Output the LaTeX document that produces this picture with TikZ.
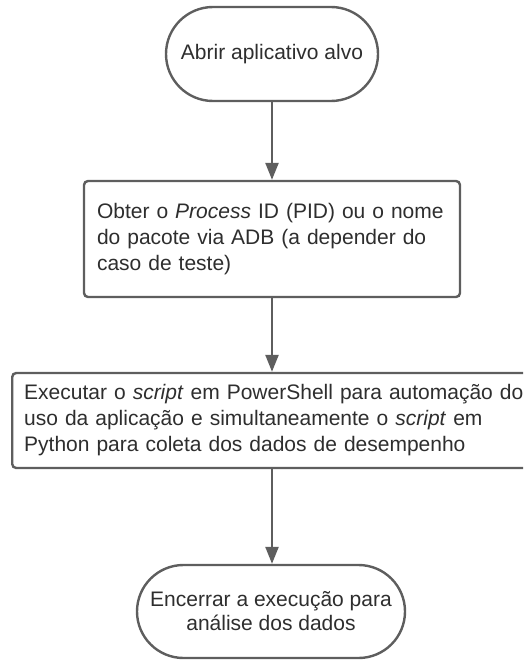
\documentclass[tikz,border=0pt]{standalone}
\usepackage{fontspec}
\setmainfont{Liberation Sans}
\usetikzlibrary{arrows.meta}
\definecolor{linegray}{HTML}{5E5E5E}
\definecolor{textgray}{HTML}{2E2E2E}
\tikzset{
  base/.style={draw=linegray, line width=2.4pt, fill=white, text=textgray,
    font=\fontsize{21}{26}\selectfont},
  terminal/.style={base, rectangle, rounded corners=#1, inner sep=0pt, align=center},
  process/.style={base, rectangle, rounded corners=4pt, align=left, inner ysep=0pt},
  flow/.style={draw=linegray, line width=2.4pt, -{Triangle[length=17pt,width=13pt]}}
}
\begin{document}
\begin{tikzpicture}[x=1pt,y=-1pt]
  \useasboundingbox (0,0) rectangle (523,661);
  \clip (0,0) rectangle (523,661);

  % start terminal
  \node[terminal=47pt, minimum width=212pt, minimum height=94pt] (start) at (272,54)
    {Abrir aplicativo alvo};

  % identify the target process
  \node[process, minimum width=376pt, minimum height=116pt, text width=350pt, inner xsep=13pt]
    (pid) at (272,239)
    {Obter o \textit{Process} ID (PID) ou o nome\\do pacote via ADB (a depender do\\caso de teste)};

  % run the automation and collection scripts (runs past the right edge)
  \node[process, minimum height=95pt, text width=530pt, inner xsep=12pt, anchor=west]
    (run) at (11,420.5)
    {Executar o \textit{script} em PowerShell para automação do\\uso da aplicação e simultaneamente o \textit{script} em\\Python para coleta dos dados de desempenho};

  % end terminal
  \node[terminal=46.5pt, minimum width=268pt, minimum height=93pt, font=\fontsize{21}{24}\selectfont]
    (stop) at (271,611.5)
    {Encerrar a execução para\\análise dos dados};

  \draw[flow] (start.south) -- (pid.north);
  \draw[flow] (pid.south) -- (pid.south |- run.north);
  \draw[flow] (pid.south |- run.south) -- (pid.south |- stop.north);
\end{tikzpicture}
\end{document}
